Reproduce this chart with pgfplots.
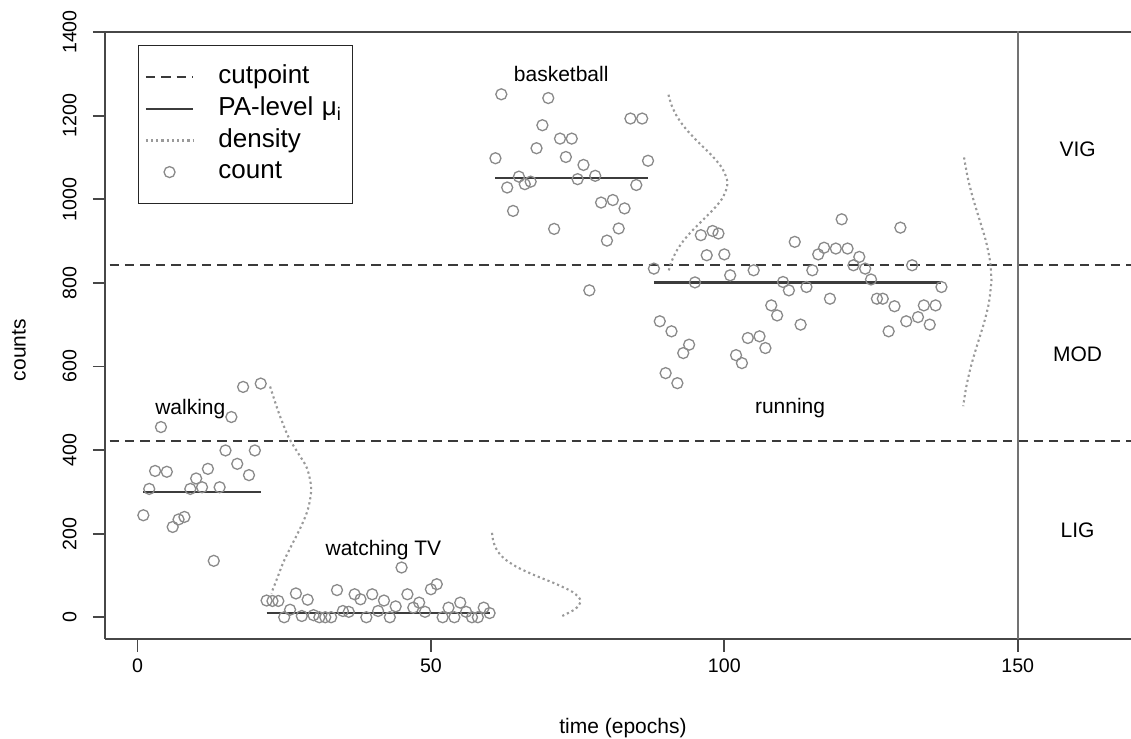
\documentclass[border=0pt]{standalone}
\usepackage{fontspec}
\setmainfont{Liberation Sans}
\usepackage{pgfplots}
\pgfplotsset{compat=1.18}
\definecolor{axcol}{HTML}{474747}
\definecolor{cutcol}{HTML}{3A3A3A}
\definecolor{meancol}{HTML}{3C3C3C}
\definecolor{denscol}{HTML}{9A9A9A}
\definecolor{ptcol}{HTML}{8A8A8A}
\definecolor{vcol}{HTML}{737373}
\newcommand{\lblfont}{\fontsize{10.5}{12.6}\selectfont}
\pgfplotsset{
  lineleg/.style={legend image code/.code={\draw[##1] (0pt,0pt) -- (23.7pt,0pt);}},
  markleg/.style={legend image code/.code={\draw[mark repeat=2,mark phase=2,##1] plot coordinates {(0pt,0pt) (11.85pt,0pt) (23.7pt,0pt)};}},
  pts/.style={only marks, mark=o, mark size=2.75pt, mark options={ptcol, line width=0.65pt}},
  dens/.style={denscol, line width=1.05pt, dash pattern=on 1.1pt off 1.5pt, smooth},
}
\begin{document}
\begin{tikzpicture}
\begin{axis}[
  name=ax,
  scale only axis,
  width=512.75pt, height=303.5pt,
  xmin=-5.45, xmax=169.3, ymin=-52, ymax=1400,
  axis x line*=box, axis y line*=left,
  axis line style={axcol, line width=1pt, -},
  xtick={0,50,100,150}, ytick={0,200,400,600,800,1000,1200,1400},
  xtick pos=left, ytick pos=left,
  tick align=outside, major tick length=6.3pt,
  tick style={axcol, line width=0.9pt},
  /pgf/number format/assume math mode=true,
  /pgf/number format/1000 sep={},
  ticklabel style={font=\fontsize{9.8}{11.8}\selectfont},
  yticklabel style={xshift=-4.6pt, rotate=90, anchor=south},
  xlabel={time (epochs)}, ylabel={counts},
  xlabel style={at={(axis description cs:0.5046,-0.1466)}, anchor=center, font=\lblfont},
  ylabel style={at={(axis description cs:-0.0843,0.476)}, anchor=center, font=\lblfont},
  legend style={at={(axis description cs:0.0317,0.9786)}, anchor=north west,
    draw=black!85, line width=0.7pt, fill=white,
    font=\fontsize{13}{15.6}\selectfont,
    inner xsep=3pt, inner ysep=9.5pt, row sep=3.2pt, column sep=12pt,
    nodes={inner sep=0pt, text height=9.6pt, text depth=3pt, text width=64pt, align=left}},
  legend cell align=left,
]
% cutpoints
\addplot[cutcol, line width=1.15pt, dash pattern=on 4.7pt off 3pt, lineleg]
  coordinates {(-10,421) (180,421)};
\addlegendentry{cutpoint}
\addplot[cutcol, line width=1.15pt, dash pattern=on 4.7pt off 3pt, forget plot]
  coordinates {(-10,842) (180,842)};
% PA-level means
\addplot[meancol, line width=1.1pt, lineleg]
  coordinates {(1,300) (21,300)};
\addlegendentry{PA-level μ\textsubscript{i}}
\addplot[meancol, line width=1.1pt, forget plot] coordinates {(22,10) (60,10)};
\addplot[meancol, line width=1.1pt, forget plot] coordinates {(61,1050) (87,1050)};
\addplot[meancol, line width=1.1pt, forget plot] coordinates {(88,801) (137,801)};
% vertical line
\addplot[vcol, line width=1.2pt, forget plot] coordinates {(150,-100) (150,1500)};
% densities
\addplot[dens, lineleg]
  coordinates {(22.6,552) (24.0,492) (25.7,432) (27.4,392) (28.9,356) (29.6,308)
   (29.1,261) (28.0,221) (26.3,173) (24.9,133) (23.8,93) (22.8,57)};
\addlegendentry{density}
\addplot[dens, forget plot]
  coordinates {(60.41,202) (60.66,180) (61.27,160) (62.52,140) (64.68,120) (67.76,100)
   (71.27,80) (74.19,60) (75.5,40) (74.62,20) (71.94,0)};
\addplot[dens, forget plot]
  coordinates {(90.48,1250) (91.01,1225) (91.85,1200) (93.06,1175) (94.62,1150) (96.40,1125)
   (98.17,1100) (99.60,1075) (100.40,1050) (100.5,1038) (100.38,1025) (99.56,1000)
   (98.10,975) (96.33,950) (94.55,925) (93.0,900) (91.81,875) (90.98,850) (90.51,828)};
\addplot[dens, forget plot]
  coordinates {(140.85,1100) (141.50,1050) (142.42,1000) (143.51,950) (144.57,900)
   (145.30,850) (145.5,810) (145.49,800) (145.06,750) (144.17,700) (143.06,650)
   (142.02,600) (141.21,550) (140.71,505)};
% counts
\addplot[pts, markleg]
  table {
x y
1 244
2 307
3 350
4 455
5 348
6 216
7 234
8 240
9 307
10 332
11 311
12 355
13 135
14 311
15 399
16 479
17 367
18 551
19 340
20 399
21 559
};
\addlegendentry{count}
\addplot[pts, forget plot]
  table {
x y
22 40
23 39
24 39
25 0
26 18
27 57
28 3
29 42
30 5
31 0
32 0
33 0
34 65
35 15
36 13
37 55
38 43
39 0
40 55
41 15
42 40
43 0
44 26
45 119
46 55
47 23
48 35
49 13
50 67
51 79
52 0
53 23
54 0
55 35
56 13
57 0
58 0
59 23
60 10
};
\addplot[pts, forget plot]
  table {
x y
61 1098
62 1251
63 1028
64 972
65 1054
66 1036
67 1042
68 1122
69 1177
70 1242
71 929
72 1145
73 1101
74 1145
75 1048
76 1082
77 782
78 1056
79 992
80 901
81 998
82 930
83 978
84 1193
85 1034
86 1193
87 1092
};
\addplot[pts, forget plot]
  table {
x y
88 834
89 708
90 584
91 684
92 560
93 632
94 652
95 801
96 914
97 866
98 924
99 918
100 868
101 818
102 627
103 608
104 668
105 830
106 672
107 644
108 746
109 722
110 802
111 782
112 898
113 700
114 790
115 830
116 868
117 884
118 762
119 882
120 952
121 882
122 842
123 862
124 834
125 808
126 762
127 762
128 684
129 744
130 932
131 708
132 842
133 718
134 746
135 700
136 746
137 790
};
% text labels
\node[font=\lblfont] at (axis cs:9,499) {walking};
\node[font=\lblfont] at (axis cs:41.9,160) {watching TV};
\node[font=\lblfont] at (axis cs:72.2,1300) {basketball};
\node[font=\lblfont] at (axis cs:111.2,501) {running};
\node[font=\lblfont] at (axis cs:160.2,1120) {VIG};
\node[font=\lblfont] at (axis cs:160.2,628) {MOD};
\node[font=\lblfont] at (axis cs:160.2,209) {LIG};
\end{axis}
\pgfresetboundingbox
\path ([shift={(-52.75pt,-50pt)}]ax.south west) rectangle ([shift={(0pt,16pt)}]ax.north east);
\end{tikzpicture}
\end{document}
